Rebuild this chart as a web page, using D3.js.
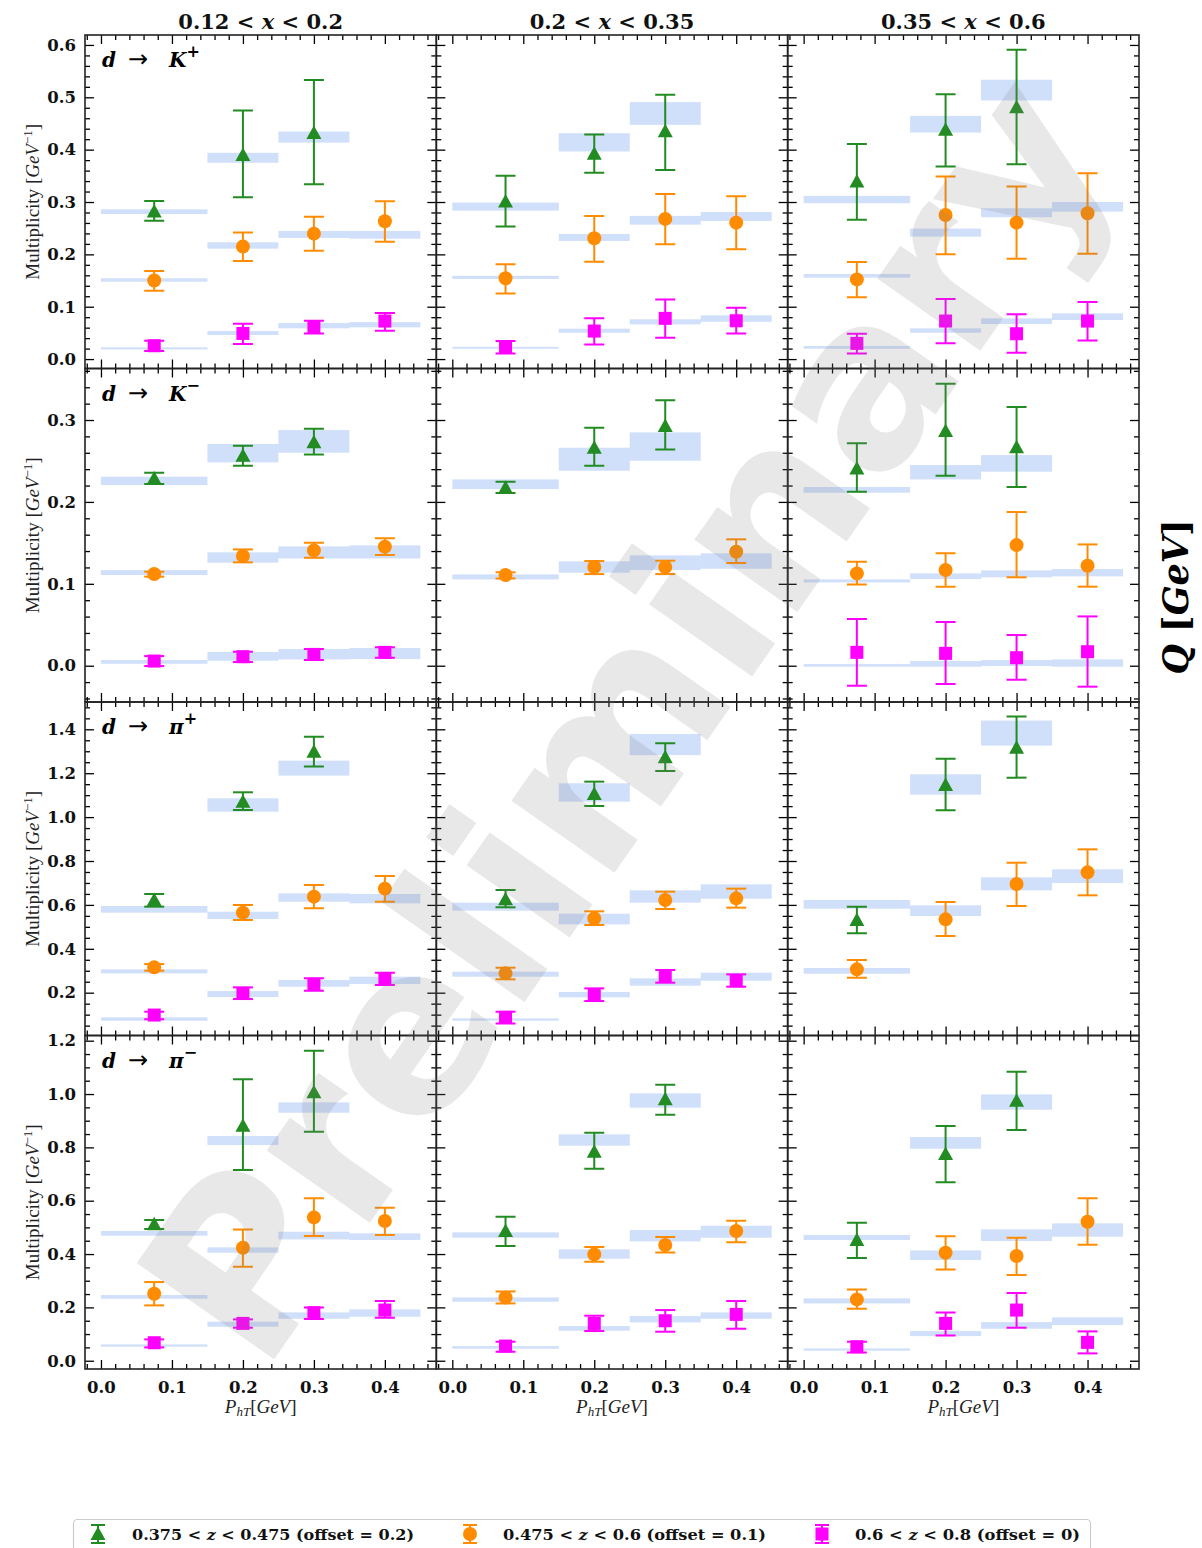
<!DOCTYPE html>
<html><head><meta charset="utf-8">
<script src="https://cdn.jsdelivr.net/npm/d3@7"></script>
<style>body{margin:0;background:#fff;} svg{display:block;}</style>
</head><body>
<svg id="c" width="1202" height="1548"></svg>
<script>
// ---------------- data ----------------
const xBinLow = ["0.12", "0.2", "0.35"];
const xBinHigh = ["0.2", "0.35", "0.6"];
const hadronSymbol = ["K", "K", "π", "π"];
const hadronCharge = ["+", "−", "+", "−"];
const phtCenters = [0.075, 0.2, 0.3, 0.4];
const phtEdges = [[0, 0.15], [0.15, 0.25], [0.25, 0.35], [0.35, 0.45]];
const xMajorTicks = [0.0, 0.1, 0.2, 0.3, 0.4];
const yMajorTicks = [
  [0.0, 0.1, 0.2, 0.3, 0.4, 0.5, 0.6],
  [0.0, 0.1, 0.2, 0.3],
  [0.2, 0.4, 0.6, 0.8, 1.0, 1.2, 1.4],
  [0.0, 0.2, 0.4, 0.6, 0.8, 1.0, 1.2]
];
const zLegend = [
  ["0.375 < ", "z", " < 0.475 (offset = 0.2)"],
  ["0.475 < ", "z", " < 0.6 (offset = 0.1)"],
  ["0.6 < ", "z", " < 0.8 (offset = 0)"]
];
// each point: [value, error-bar low, error-bar high]; per x-bin column
const KP_z1 = [
  [[0.282,0.264,0.302],[0.390,0.309,0.475],[0.432,0.334,0.533]],
  [[0.301,0.253,0.350],[0.392,0.356,0.429],[0.435,0.361,0.505]],
  [[0.339,0.266,0.411],[0.438,0.368,0.506],[0.481,0.372,0.591]]];
const KP_z1_band = [
  [[0.277,0.286],[0.375,0.394],[0.4135,0.4346]],
  [[0.2836,0.2989],[0.3965,0.4314],[0.4474,0.4908]],
  [[0.2977,0.3117],[0.4327,0.4646],[0.4939,0.5335]]];
const KP_z2 = [
  [[0.150,0.1306,0.168],[0.2148,0.1874,0.2416],[0.2396,0.207,0.272],[0.2632,0.2243,0.3015]],
  [[0.1543,0.1254,0.181],[0.2307,0.186,0.2734],[0.2677,0.2193,0.3155],[0.2606,0.2096,0.311]],
  [[0.1522,0.118,0.1855],[0.2753,0.2001,0.3486],[0.2606,0.1918,0.3295],[0.2786,0.2014,0.355]]];
const KP_z2_band = [
  [[0.1478,0.1543],[0.211,0.223],[0.2314,0.2447],[0.230,0.2447]],
  [[0.153,0.159],[0.2256,0.239],[0.2568,0.2734],[0.2639,0.281]],
  [[0.1555,0.1625],[0.2339,0.2492],[0.2709,0.2881],[0.2817,0.300]]];
const KP_z3 = [
  [[0.0255,0.0153,0.035],[0.049,0.0287,0.0675],[0.0618,0.049,0.0732],[0.0727,0.054,0.088]],
  [[0.0229,0.0108,0.0344],[0.0535,0.028,0.0778],[0.0778,0.0407,0.114],[0.0732,0.049,0.098]],
  [[0.030,0.0108,0.0484],[0.0727,0.030,0.1147],[0.0484,0.0121,0.0855],[0.0727,0.0357,0.109]]];
const KP_z3_band = [
  [[0.0185,0.0224],[0.0459,0.0535],[0.0587,0.0688],[0.0606,0.0707]],
  [[0.0197,0.0235],[0.0503,0.058],[0.0663,0.0759],[0.0713,0.0835]],
  [[0.0197,0.0249],[0.0503,0.0587],[0.0669,0.0778],[0.0746,0.0874]]];

const KM_z1 = [
  [[0.2287,0.2218,0.2357],[0.2564,0.2442,0.2686],[0.2727,0.258,0.2894]],
  [[0.2173,0.2108,0.2247],[0.2662,0.2442,0.2906],[0.2926,0.2641,0.324]],
  [[0.2409,0.2125,0.2715],[0.2865,0.232,0.3443],[0.2666,0.2182,0.3158]]];
const KM_z1_band = [
  [[0.2206,0.2308],[0.2483,0.2707],[0.2601,0.2877]],
  [[0.2157,0.2275],[0.2381,0.2662],[0.2503,0.2849]],
  [[0.2112,0.2182],[0.2275,0.245],[0.2369,0.2572]]];
const KM_z2 = [
  [[0.1119,0.1087,0.1148],[0.1339,0.1262,0.142],[0.1408,0.1319,0.1502],[0.1453,0.1351,0.1555]],
  [[0.1107,0.1066,0.114],[0.1205,0.1119,0.1278],[0.1205,0.1119,0.1282],[0.1392,0.1254,0.1543]],
  [[0.1127,0.0993,0.127],[0.1168,0.0965,0.1372],[0.1473,0.1079,0.1876],[0.1221,0.0965,0.1481]]];
const KM_z2_band = [
  [[0.1107,0.1168],[0.1258,0.1384],[0.131,0.1457],[0.131,0.1469]],
  [[0.1054,0.1115],[0.1136,0.1274],[0.1168,0.1347],[0.1184,0.1372]],
  [[0.1017,0.1054],[0.1058,0.1127],[0.1079,0.1164],[0.1091,0.118]]];
const KM_z3 = [
  [[0.0057,-0.0004,0.0118],[0.011,0.0045,0.0171],[0.0138,0.0069,0.0204],[0.0163,0.0098,0.0224]],
  [],
  [[0.0163,-0.0244,0.057],[0.0151,-0.0224,0.0533],[0.0098,-0.0171,0.0374],[0.0171,-0.0256,0.0602]]];
const KM_z3_band = [
  [[0.0024,0.0069],[0.0061,0.0167],[0.0077,0.0204],[0.0081,0.0216]],
  [],
  [[-0.0012,0.002],[-0.0012,0.0057],[-0.0004,0.0069],[-0.0012,0.0077]]];

const PP_z1 = [
  [[0.622,0.592,0.6496],[1.0704,1.0324,1.113],[1.298,1.23,1.3666]],
  [[0.6253,0.5889,0.6678],[1.1053,1.0507,1.1616],[1.2725,1.2101,1.3363]],
  [[0.5312,0.4704,0.5919],[1.1464,1.0309,1.2664],[1.3165,1.1798,1.4578]]];
const PP_z1_band = [
  [[0.5646,0.595],[1.0248,1.0856],[1.189,1.2573]],
  [[0.5737,0.6101],[1.0704,1.1539],[1.2824,1.3788]],
  [[0.5828,0.6223],[1.1023,1.195],[1.3257,1.4396]]];
const PP_z2 = [
  [[0.3155,0.3003,0.3306],[0.5646,0.5312,0.5995],[0.6375,0.5843,0.6907],[0.674,0.6147,0.7317]],
  [[0.2881,0.2608,0.3139],[0.5388,0.5084,0.5707],[0.6223,0.5813,0.6603],[0.6299,0.5874,0.674]],
  [[0.3063,0.2684,0.3489],[0.5342,0.4583,0.6132],[0.6952,0.595,0.7924],[0.7484,0.6436,0.8532]]];
const PP_z2_band = [
  [[0.288,0.3063],[0.5357,0.5691],[0.6147,0.6527],[0.6071,0.6496]],
  [[0.2729,0.2957],[0.5114,0.56],[0.6101,0.6663],[0.6283,0.6937]],
  [[0.2866,0.3124],[0.5494,0.598],[0.6664,0.7256],[0.6998,0.7621]]];
const PP_z3 = [
  [[0.0982,0.0785,0.1134],[0.197,0.1711,0.2243],[0.238,0.2091,0.2653],[0.2623,0.2349,0.2911]],
  [[0.0876,0.0602,0.1134],[0.1909,0.162,0.2197],[0.276,0.2456,0.3033],[0.2547,0.2273,0.2835]],
  []];
const PP_z3_band = [
  [[0.0724,0.0876],[0.1803,0.2076],[0.2273,0.2577],[0.2395,0.273]],
  [[0.0724,0.083],[0.1787,0.203],[0.2319,0.2653],[0.2547,0.2911]],
  []];

const PM_z1 = [
  [[0.5113,0.4938,0.5275],[0.8813,0.715,1.055],[1.0063,0.8588,1.1625]],
  [[0.4863,0.43,0.54],[0.7838,0.72,0.855],[0.98,0.9225,1.035]],
  [[0.4525,0.385,0.5175],[0.775,0.6688,0.88],[0.975,0.865,1.0838]]];
const PM_z1_band = [
  [[0.4688,0.4863],[0.8088,0.8425],[0.93,0.9688]],
  [[0.4613,0.4813],[0.8063,0.8488],[0.9488,1.0025]],
  [[0.4525,0.4713],[0.795,0.8388],[0.9413,0.9988]]];
const PM_z2 = [
  [[0.2513,0.2075,0.295],[0.4238,0.3525,0.4925],[0.5375,0.4675,0.6088],[0.5238,0.4713,0.5738]],
  [[0.2375,0.215,0.26],[0.3988,0.3713,0.4263],[0.4338,0.4063,0.4638],[0.4863,0.4438,0.525]],
  [[0.23,0.195,0.2675],[0.405,0.3425,0.4663],[0.3925,0.3213,0.4613],[0.5213,0.435,0.6088]]];
const PM_z2_band = [
  [[0.2325,0.2463],[0.405,0.425],[0.455,0.4838],[0.4525,0.4775]],
  [[0.2213,0.2375],[0.3825,0.4175],[0.4475,0.49],[0.4613,0.5063]],
  [[0.215,0.2338],[0.3775,0.4138],[0.4488,0.4925],[0.465,0.515]]];
const PM_z3 = [
  [[0.0675,0.05,0.08],[0.14,0.1238,0.155],[0.18,0.1563,0.2],[0.19,0.1613,0.2238]],
  [[0.055,0.0338,0.0713],[0.14,0.1113,0.1688],[0.15,0.1088,0.19],[0.1738,0.12,0.2238]],
  [[0.0525,0.0313,0.0713],[0.14,0.095,0.1813],[0.19,0.1238,0.2538],[0.0688,0.0275,0.11]]];
const PM_z3_band = [
  [[0.0525,0.0613],[0.1275,0.1463],[0.1575,0.1813],[0.165,0.1925]],
  [[0.045,0.055],[0.1125,0.13],[0.1438,0.1675],[0.1575,0.1813]],
  [[0.0375,0.0463],[0.0925,0.1113],[0.12,0.145],[0.1338,0.1625]]];

const points = [[KP_z1, KP_z2, KP_z3], [KM_z1, KM_z2, KM_z3], [PP_z1, PP_z2, PP_z3], [PM_z1, PM_z2, PM_z3]];
const bands = [[KP_z1_band, KP_z2_band, KP_z3_band], [KM_z1_band, KM_z2_band, KM_z3_band],
               [PP_z1_band, PP_z2_band, PP_z3_band], [PM_z1_band, PM_z2_band, PM_z3_band]];

// ---------------- layout / style ----------------
const L = 85, T = 35, PW = (1139 - 85) / 3, PH = (1369 - 35) / 4;
const xDomain = [-0.0225, 0.4725];
const yDomains = [[-0.018, 0.619], [-0.0443, 0.3629], [0.005, 1.5244], [-0.031, 1.2195]];
const yMinorStep = [0.02, 0.02, 0.05, 0.05];
const colors = ["#228B22", "#FF8C00", "#FF00FF"];
const bandColor = "#6495ED";
const tickFont = "'DejaVu Serif', serif";
const labelFont = "'Liberation Serif', 'DejaVu Serif', serif";

const svg = d3.select("#c");
svg.append("rect").attr("width", 1202).attr("height", 1548).attr("fill", "#fff");

const x = d3.scaleLinear().domain(xDomain).range([0, PW]);
const xMinor = d3.range(-0.02, 0.4701, 0.02).filter(v => v >= xDomain[0] && v <= xDomain[1] && !xMajorTicks.some(m => Math.abs(m - v) < 1e-6));

function marker(g, s, cx, cy) {
  if (s === 0) {
    g.append("path").attr("d", `M${cx},${cy - 7.5}L${cx + 7.5},${cy + 6}L${cx - 7.5},${cy + 6}Z`).attr("fill", colors[0]);
  } else if (s === 1) {
    g.append("circle").attr("cx", cx).attr("cy", cy).attr("r", 7).attr("fill", colors[1]);
  } else {
    g.append("rect").attr("x", cx - 6.5).attr("y", cy - 6.5).attr("width", 13).attr("height", 13).attr("fill", colors[2]);
  }
}
function errbar(g, s, cx, y1, y2, cap) {
  g.append("line").attr("x1", cx).attr("x2", cx).attr("y1", y1).attr("y2", y2).attr("stroke", colors[s]).attr("stroke-width", 2);
  [y1, y2].forEach(yy => g.append("line").attr("x1", cx - cap).attr("x2", cx + cap).attr("y1", yy).attr("y2", yy)
    .attr("stroke", colors[s]).attr("stroke-width", 2));
}

for (let r = 0; r < 4; r++) {
  const y = d3.scaleLinear().domain(yDomains[r]).range([PH, 0]);
  const yMinor = d3.range(Math.ceil(yDomains[r][0] / yMinorStep[r]) * yMinorStep[r], yDomains[r][1], yMinorStep[r])
    .filter(v => !yMajorTicks[r].some(m => Math.abs(m - v) < 1e-6));
  for (let c = 0; c < 3; c++) {
    const g = svg.append("g").attr("transform", `translate(${L + c * PW},${T + r * PH})`);
    const cid = `clip${r}${c}`;
    g.append("clipPath").attr("id", cid).append("rect").attr("width", PW).attr("height", PH);
    const pg = g.append("g").attr("clip-path", `url(#${cid})`);
    // bands
    for (let s = 0; s < 3; s++) {
      const b = bands[r][s][c];
      pg.selectAll(null).data(b).enter().append("rect")
        .attr("x", (d, i) => x(phtEdges[i][0]))
        .attr("width", (d, i) => x(phtEdges[i][1]) - x(phtEdges[i][0]))
        .attr("y", d => y(d[1]))
        .attr("height", d => y(d[0]) - y(d[1]))
        .attr("fill", bandColor).attr("fill-opacity", 0.3);
    }
    // points
    for (let s = 0; s < 3; s++) {
      const p = points[r][s][c];
      p.forEach((d, i) => {
        const cx = x(phtCenters[i]);
        errbar(pg, s, cx, y(d[2]), y(d[1]), 10);
        marker(pg, s, cx, y(d[0]));
      });
    }
    // axes (inward ticks on all sides)
    const axes = g.append("g").attr("class", "ax");
    const bottomMaj = d3.axisBottom(x).tickValues(xMajorTicks).tickSizeInner(-9).tickSizeOuter(0).tickPadding(12.5)
      .tickFormat(r === 3 ? d3.format(".1f") : "");
    axes.append("g").attr("transform", `translate(0,${PH})`).call(bottomMaj);
    axes.append("g").attr("transform", `translate(0,${PH})`).call(d3.axisBottom(x).tickValues(xMinor).tickSizeInner(-5).tickSizeOuter(0).tickFormat(""));
    axes.append("g").call(d3.axisTop(x).tickValues(xMajorTicks).tickSizeInner(-9).tickSizeOuter(0).tickFormat(""));
    axes.append("g").call(d3.axisTop(x).tickValues(xMinor).tickSizeInner(-5).tickSizeOuter(0).tickFormat(""));
    axes.append("g").call(d3.axisLeft(y).tickValues(yMajorTicks[r]).tickSizeInner(-9).tickSizeOuter(0).tickPadding(9)
      .tickFormat(c === 0 ? d3.format(".1f") : ""));
    axes.append("g").call(d3.axisLeft(y).tickValues(yMinor).tickSizeInner(-5).tickSizeOuter(0).tickFormat(""));
    axes.append("g").attr("transform", `translate(${PW},0)`).call(d3.axisRight(y).tickValues(yMajorTicks[r]).tickSizeInner(-9).tickSizeOuter(0).tickFormat(""));
    axes.append("g").attr("transform", `translate(${PW},0)`).call(d3.axisRight(y).tickValues(yMinor).tickSizeInner(-5).tickSizeOuter(0).tickFormat(""));
    axes.selectAll(".domain").remove();
    axes.selectAll(".tick line").attr("stroke", "#000").attr("stroke-width", 1.3);
    axes.selectAll(".tick text").attr("font-family", tickFont).attr("font-weight", "bold").attr("font-size", 16.5).attr("fill", "#111");
    g.append("rect").attr("width", PW).attr("height", PH).attr("fill", "none").attr("stroke", "#222").attr("stroke-width", 1.6);

    // annotation
    if (c === 0) {
      const a = g.append("text").attr("x", 17).attr("y", 32).attr("font-family", tickFont).attr("font-weight", "bold").attr("font-size", 20).attr("fill", "#000");
      a.append("tspan").attr("font-style", "italic").text("d");
      a.append("tspan").attr("x", 43).attr("font-family", "'DejaVu Sans', sans-serif").attr("font-weight", "normal").attr("font-size", 24).text("→");
      a.append("tspan").attr("x", 84).attr("font-style", "italic").text(hadronSymbol[r]);
      a.append("tspan").attr("dy", -10).attr("font-size", 16).text(hadronCharge[r]);
      // y label
      const yl = svg.append("text")
        .attr("transform", `translate(39,${T + r * PH + PH / 2}) rotate(-90)`)
        .attr("text-anchor", "middle").attr("font-family", labelFont).attr("font-size", 19).attr("fill", "#222");
      yl.append("tspan").text("Multiplicity [");
      yl.append("tspan").attr("font-style", "italic").text("GeV");
      yl.append("tspan").attr("dy", -7).attr("font-size", 13).text("−1");
      yl.append("tspan").attr("dy", 7).text("]");
    }
    // column titles
    if (r === 0) {
      const t = svg.append("text").attr("x", L + c * PW + PW / 2).attr("y", 29).attr("text-anchor", "middle")
        .attr("font-family", tickFont).attr("font-weight", "bold").attr("font-size", 21).attr("fill", "#111");
      t.append("tspan").text(`${xBinLow[c]} < `);
      t.append("tspan").attr("font-style", "italic").text("x");
      t.append("tspan").text(` < ${xBinHigh[c]}`);
    }
    // x labels
    if (r === 3) {
      const xl = svg.append("text").attr("x", L + c * PW + PW / 2).attr("y", 1413).attr("text-anchor", "middle")
        .attr("font-family", labelFont).attr("font-size", 19).attr("fill", "#222");
      xl.append("tspan").attr("font-style", "italic").text("P");
      xl.append("tspan").attr("font-style", "italic").attr("font-size", 13).attr("dy", 3).text("hT");
      xl.append("tspan").attr("dy", -3).text("[");
      xl.append("tspan").attr("font-style", "italic").text("GeV");
      xl.append("tspan").text("]");
    }
  }
}

// right label
const q = svg.append("text").attr("transform", "translate(1188,597) rotate(-90)").attr("text-anchor", "middle")
  .attr("font-family", tickFont).attr("font-weight", "bold").attr("font-size", 35).attr("fill", "#000");
q.append("tspan").attr("font-style", "italic").text("Q");
q.append("tspan").text(" [");
q.append("tspan").attr("font-style", "italic").text("GeV");
q.append("tspan").text("]");

// legend
const lg = svg.append("g");
lg.append("rect").attr("x", 73.5).attr("y", 1519.5).attr("width", 1017).attr("height", 60).attr("rx", 4)
  .attr("fill", "#fff").attr("stroke", "#ccc").attr("stroke-width", 1.2);
const handleX = [98, 470, 822], textX = [132, 503, 855], textW = [282, 263, 225];
for (let s = 0; s < 3; s++) {
  errbar(lg, s, handleX[s], 1525, 1543, 7);
  marker(lg, s, handleX[s], 1534);
  const t = lg.append("text").attr("x", textX[s]).attr("y", 1540).attr("font-family", tickFont).attr("font-weight", "bold")
    .attr("font-size", 15.5).attr("fill", "#111").attr("textLength", textW[s]).attr("lengthAdjust", "spacingAndGlyphs");
  t.append("tspan").text(zLegend[s][0]);
  t.append("tspan").attr("font-style", "italic").text(zLegend[s][1]);
  t.append("tspan").text(zLegend[s][2]);
}

// watermark
svg.append("text").attr("transform", "translate(626,718) rotate(-55)").attr("text-anchor", "middle")
  .attr("dominant-baseline", "central")
  .attr("font-family", "'DejaVu Sans', sans-serif").attr("font-weight", "bold").attr("font-size", 230)
  .attr("fill", "#808080").attr("fill-opacity", 0.18).text("Preliminary");
</script>
</body></html>
